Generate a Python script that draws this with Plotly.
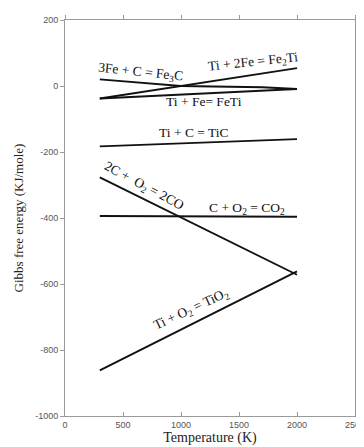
import plotly.graph_objects as go

# Temperatures (K) and Gibbs free energy (kJ/mole)
T_fe3c = [300, 1000, 1700, 2000]
G_fe3c = [20, 0, -4, -9]

T_fe2ti = [300, 2000]
G_fe2ti = [-38, 54]

T_feti = [300, 2000]
G_feti = [-38, -9]

T_tic = [300, 2000]
G_tic = [-183, -161]

T_co = [300, 2000]
G_co = [-277, -572]

T_co2 = [300, 2000]
G_co2 = [-394, -396]

T_tio2 = [300, 2000]
G_tio2 = [-862, -562]

x_ticks = [0, 500, 1000, 1500, 2000, 2500]
y_ticks = [200, 0, -200, -400, -600, -800, -1000]
y_ticktext = [str(v) for v in y_ticks]

series = [
    (T_fe3c, G_fe3c), (T_fe2ti, G_fe2ti), (T_feti, G_feti), (T_tic, G_tic),
    (T_co, G_co), (T_co2, G_co2), (T_tio2, G_tio2),
]

fig = go.Figure()
for xs, ys in series:
    fig.add_trace(go.Scatter(x=xs, y=ys, mode="lines",
                             line=dict(color="#111111", width=1.9),
                             showlegend=False, hoverinfo="skip"))

serif = "Liberation Serif, Times New Roman, serif"
labels = [
    ("3Fe + C = Fe<sub>3</sub>C", 135, 63, 6),
    ("Ti + 2Fe = Fe<sub>2</sub>Ti", 251, 53, -6),
    ("Ti + Fe= FeTi", 201, 92, 0),
    ("Ti + C = TiC", 190, 123, 0),
    ("2C +  O<sub>2</sub> = 2CO", 139, 177, 28),
    ("C + O<sub>2</sub> = CO<sub>2</sub>", 245, 199, 0),
    ("Ti + O<sub>2</sub> = TiO<sub>2</sub>", 188, 301, -25),
]
# convert pixel placement into data coordinates via the axis scales
x0px, x1px, y0px, y1px = 57, 357, 408, 10
for text, px, py, ang in labels:
    xd = (px - x0px) / (x1px - x0px) * 2500
    yd = -1000 + (y0px - py) / (y0px - y1px) * 1200
    fig.add_annotation(x=xd, y=yd, text=text, showarrow=False, textangle=ang,
                       font=dict(family=serif, size=13.5, color="#111111"))

axis_col = "#9a9a9a"
tickfont = dict(family="Liberation Sans, Arial", size=9, color="#555555")
fig.update_layout(
    width=364, height=447,
    margin=dict(l=57, r=7, t=10, b=39),
    paper_bgcolor="white", plot_bgcolor="white",
    xaxis=dict(range=[0, 2500], tickvals=x_ticks, ticks="inside", ticklen=4,
               tickcolor=axis_col, showline=True, linecolor=axis_col, linewidth=1,
               showgrid=False, zeroline=False, tickfont=tickfont,
               title=dict(text="Temperature (K)", standoff=3,
                          font=dict(family=serif, size=14, color="#222222"))),
    xaxis2=dict(range=[0, 2500], overlaying="x", side="top", tickvals=x_ticks,
                ticks="outside", ticklen=4, tickcolor=axis_col, showline=True,
                linecolor=axis_col, linewidth=1, showticklabels=False,
                showgrid=False, zeroline=False),
    yaxis=dict(range=[-1000, 200], tickvals=y_ticks, ticktext=y_ticktext,
               ticks="outside", ticklen=4, tickcolor=axis_col, showline=True,
               linecolor=axis_col, linewidth=1, mirror="ticks",
               showgrid=False, zeroline=False, tickfont=tickfont,
               title=dict(text="Gibbs free energy (KJ/mole)", standoff=8,
                          font=dict(family=serif, size=13, color="#222222"))),
)
fig.add_trace(go.Scatter(x=[None], y=[None], xaxis="x2", showlegend=False))

fig.write_html("out.html")
